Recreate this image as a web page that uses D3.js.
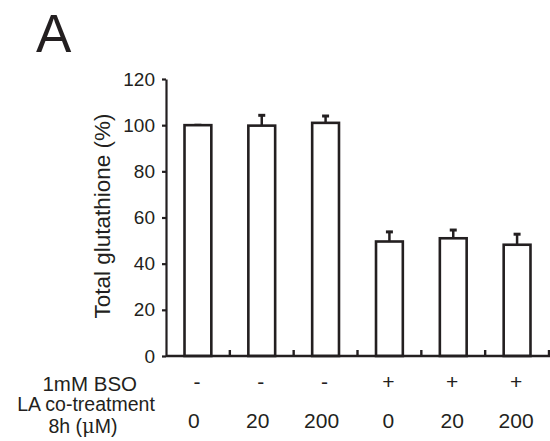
<!DOCTYPE html>
<html><head><meta charset="utf-8">
<script src="https://cdn.jsdelivr.net/npm/d3@7"></script>
<style>body{margin:0;background:#fff}svg{display:block}text{font-family:"Liberation Sans",Arial,sans-serif;fill:#231f20}</style>
</head><body>
<svg id="c" width="550" height="441"></svg>
<script>
const categories = ["c1","c2","c3","c4","c5","c6"];
const means = [100, 99.8, 101, 49.6, 51, 48.2];
const errors = [0.4, 4.9, 3.4, 4.6, 4.0, 5.0];
const bsoLabels = ["-","-","-","+","+","+"];
const laLabels = ["0","20","200","0","20","200"];
const yTicks = [0,20,40,60,80,100,120];

const svg = d3.select("#c");
const ink = "#231f20";
const x = d3.scaleBand().domain(categories).range([166, 549]).padding(0);
const y = d3.scaleLinear().domain([0,120]).range([356, 79]);
const bw = x.bandwidth()*0.42;

// y axis
const ya = svg.append("g").attr("transform","translate(166,0)")
  .call(d3.axisLeft(y).tickValues(yTicks).tickSize(4).tickPadding(7).tickSizeOuter(0));
ya.select(".domain").attr("stroke",ink).attr("stroke-width",2.2);
ya.selectAll(".tick line").attr("stroke",ink).attr("stroke-width",2.2);
ya.selectAll(".tick text").attr("font-size",19).style("font-family","Liberation Sans, Arial, sans-serif").attr("fill",ink);

// bars
const g = svg.append("g");
categories.forEach((c,i)=>{
  const cx = x(c)+x.bandwidth()/2;
  g.append("line").attr("x1",cx).attr("x2",cx).attr("y1",y(means[i])).attr("y2",y(means[i]+errors[i]))
    .attr("stroke",ink).attr("stroke-width",2.5);
  g.append("line").attr("x1",cx-3.5).attr("x2",cx+3.5).attr("y1",y(means[i]+errors[i])+1).attr("y2",y(means[i]+errors[i])+1)
    .attr("stroke",ink).attr("stroke-width",3);
  g.append("rect").attr("x",cx-bw/2).attr("y",y(means[i])).attr("width",bw).attr("height",y(0)-y(means[i]))
    .attr("fill","#fff").attr("stroke",ink).attr("stroke-width",2.6);
});

// x axis
const xa = svg.append("g").attr("transform","translate(0,356)");
xa.append("line").attr("x1",166).attr("x2",550).attr("y1",0).attr("y2",0).attr("stroke",ink).attr("stroke-width",2.4);
categories.forEach(c=>{
  const xx = x(c)+x.bandwidth();
  xa.append("line").attr("x1",xx).attr("x2",xx).attr("y1",0).attr("y2",-6).attr("stroke",ink).attr("stroke-width",2.4);
});

// row labels
categories.forEach((c,i)=>{
  const cx = x(c)+x.bandwidth()/2;
  svg.append("text").attr("x",cx-1).attr("y",389).attr("text-anchor","middle").attr("font-size",21).text(bsoLabels[i]);
  svg.append("text").attr("x",cx-(i<3?4:1)).attr("y",428).attr("text-anchor","middle").attr("font-size",21).text(laLabels[i]);
});
svg.append("text").attr("x",137).attr("y",391).attr("text-anchor","end").attr("font-size",20.5).text("1mM BSO");
svg.append("text").attr("x",86).attr("y",411).attr("text-anchor","middle").attr("font-size",19.5).text("LA co-treatment");
const t8 = svg.append("text").attr("x",83).attr("y",433).attr("text-anchor","middle").attr("font-size",19.5);
t8.append("tspan").text("8h (");
t8.append("tspan").style("font-family","'DejaVu Serif',serif").text("μ");
t8.append("tspan").text("M)");

// y label
svg.append("text").attr("transform","translate(110,216) rotate(-90)").attr("text-anchor","middle")
  .attr("font-size",22.5).text("Total glutathione (%)");

// panel letter
svg.append("text").attr("x",36).attr("y",52).attr("font-size",53).text("A");
</script>
</body></html>
